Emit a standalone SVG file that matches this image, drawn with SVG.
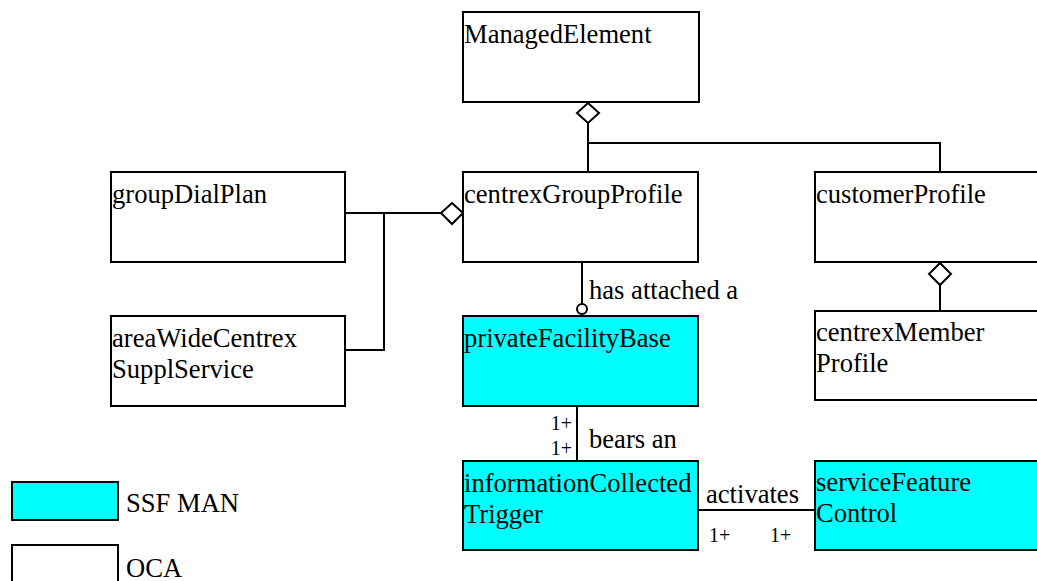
<svg xmlns="http://www.w3.org/2000/svg" width="1037" height="581" viewBox="0 0 1037 581">
<style>
.box{fill:#fff;stroke:#000;stroke-width:2}
.ssf{fill:#00ffff;stroke:#000;stroke-width:2}
.ln{fill:none;stroke:#000;stroke-width:2}
.dia{fill:#fff;stroke:#000;stroke-width:2}
.t{font-family:"Liberation Serif","Times New Roman",serif;font-size:26.6px;fill:#000}
.s{font-family:"Liberation Serif","Times New Roman",serif;font-size:20px;fill:#000}
</style>
<rect width="1037" height="581" fill="#fff"/>
<g id="connectors">
<path class="ln" d="M588 123 V172 M588 143 H940 V172"/>
<path class="dia" d="M588 103 L599 113 L588 123 L577 113 Z"/>
<path class="ln" d="M345 213 H441 M384 213 V350 H345"/>
<path class="dia" d="M452 203 L463 213 L452 224 L441 213 Z"/>
<path class="ln" d="M582 262 V304"/>
<circle class="dia" cx="582" cy="309" r="5"/>
<text class="t" x="589" y="299">has attached a</text>
<path class="ln" d="M577 406 V461"/>
<text class="s" x="572" y="430" text-anchor="end">1+</text>
<text class="s" x="572" y="455" text-anchor="end">1+</text>
<text class="t" x="589" y="448">bears an</text>
<path class="ln" d="M698 510 H815"/>
<text class="t" x="706" y="503">activates</text>
<text class="s" x="709" y="542">1+</text>
<text class="s" x="770" y="542">1+</text>
<path class="ln" d="M940 284 V311"/>
<path class="dia" d="M940 263 L951 274 L940 285 L929 274 Z"/>
</g>
<g id="managedElement"><rect class="box" x="463" y="12" width="236" height="90"/><text class="t" x="464" y="43">ManagedElement</text></g>
<g id="groupDialPlan"><rect class="box" x="111" y="172" width="234" height="90"/><text class="t" x="112" y="203">groupDialPlan</text></g>
<g id="centrexGroupProfile"><rect class="box" x="463" y="172" width="235" height="90"/><text class="t" x="464" y="203">centrexGroupProfile</text></g>
<g id="customerProfile"><rect class="box" x="815" y="172" width="240" height="90"/><text class="t" x="816" y="203">customerProfile</text></g>
<g id="areaWideCentrexSupplService"><rect class="box" x="111" y="316" width="234" height="90"/><text class="t" x="112" y="347">areaWideCentrex</text><text class="t" x="112" y="378">SupplService</text></g>
<g id="privateFacilityBase"><rect class="ssf" x="463" y="316" width="235" height="90"/><text class="t" x="464" y="347">privateFacilityBase</text></g>
<g id="centrexMemberProfile"><rect class="box" x="815" y="311" width="240" height="89"/><text class="t" x="816" y="341">centrexMember</text><text class="t" x="816" y="372">Profile</text></g>
<g id="informationCollectedTrigger"><rect class="ssf" x="463" y="461" width="235" height="89"/><text class="t" x="464" y="492">informationCollected</text><text class="t" x="464" y="523">Trigger</text></g>
<g id="serviceFeatureControl"><rect class="ssf" x="815" y="461" width="240" height="89"/><text class="t" x="816" y="491">serviceFeature</text><text class="t" x="816" y="522">Control</text></g>
<g id="legend">
<rect class="ssf" x="12" y="482" width="106" height="38"/><text class="t" x="126" y="512">SSF MAN</text>
<rect class="box" x="12" y="545" width="106" height="50"/><text class="t" x="126" y="577">OCA</text>
</g>
</svg>
